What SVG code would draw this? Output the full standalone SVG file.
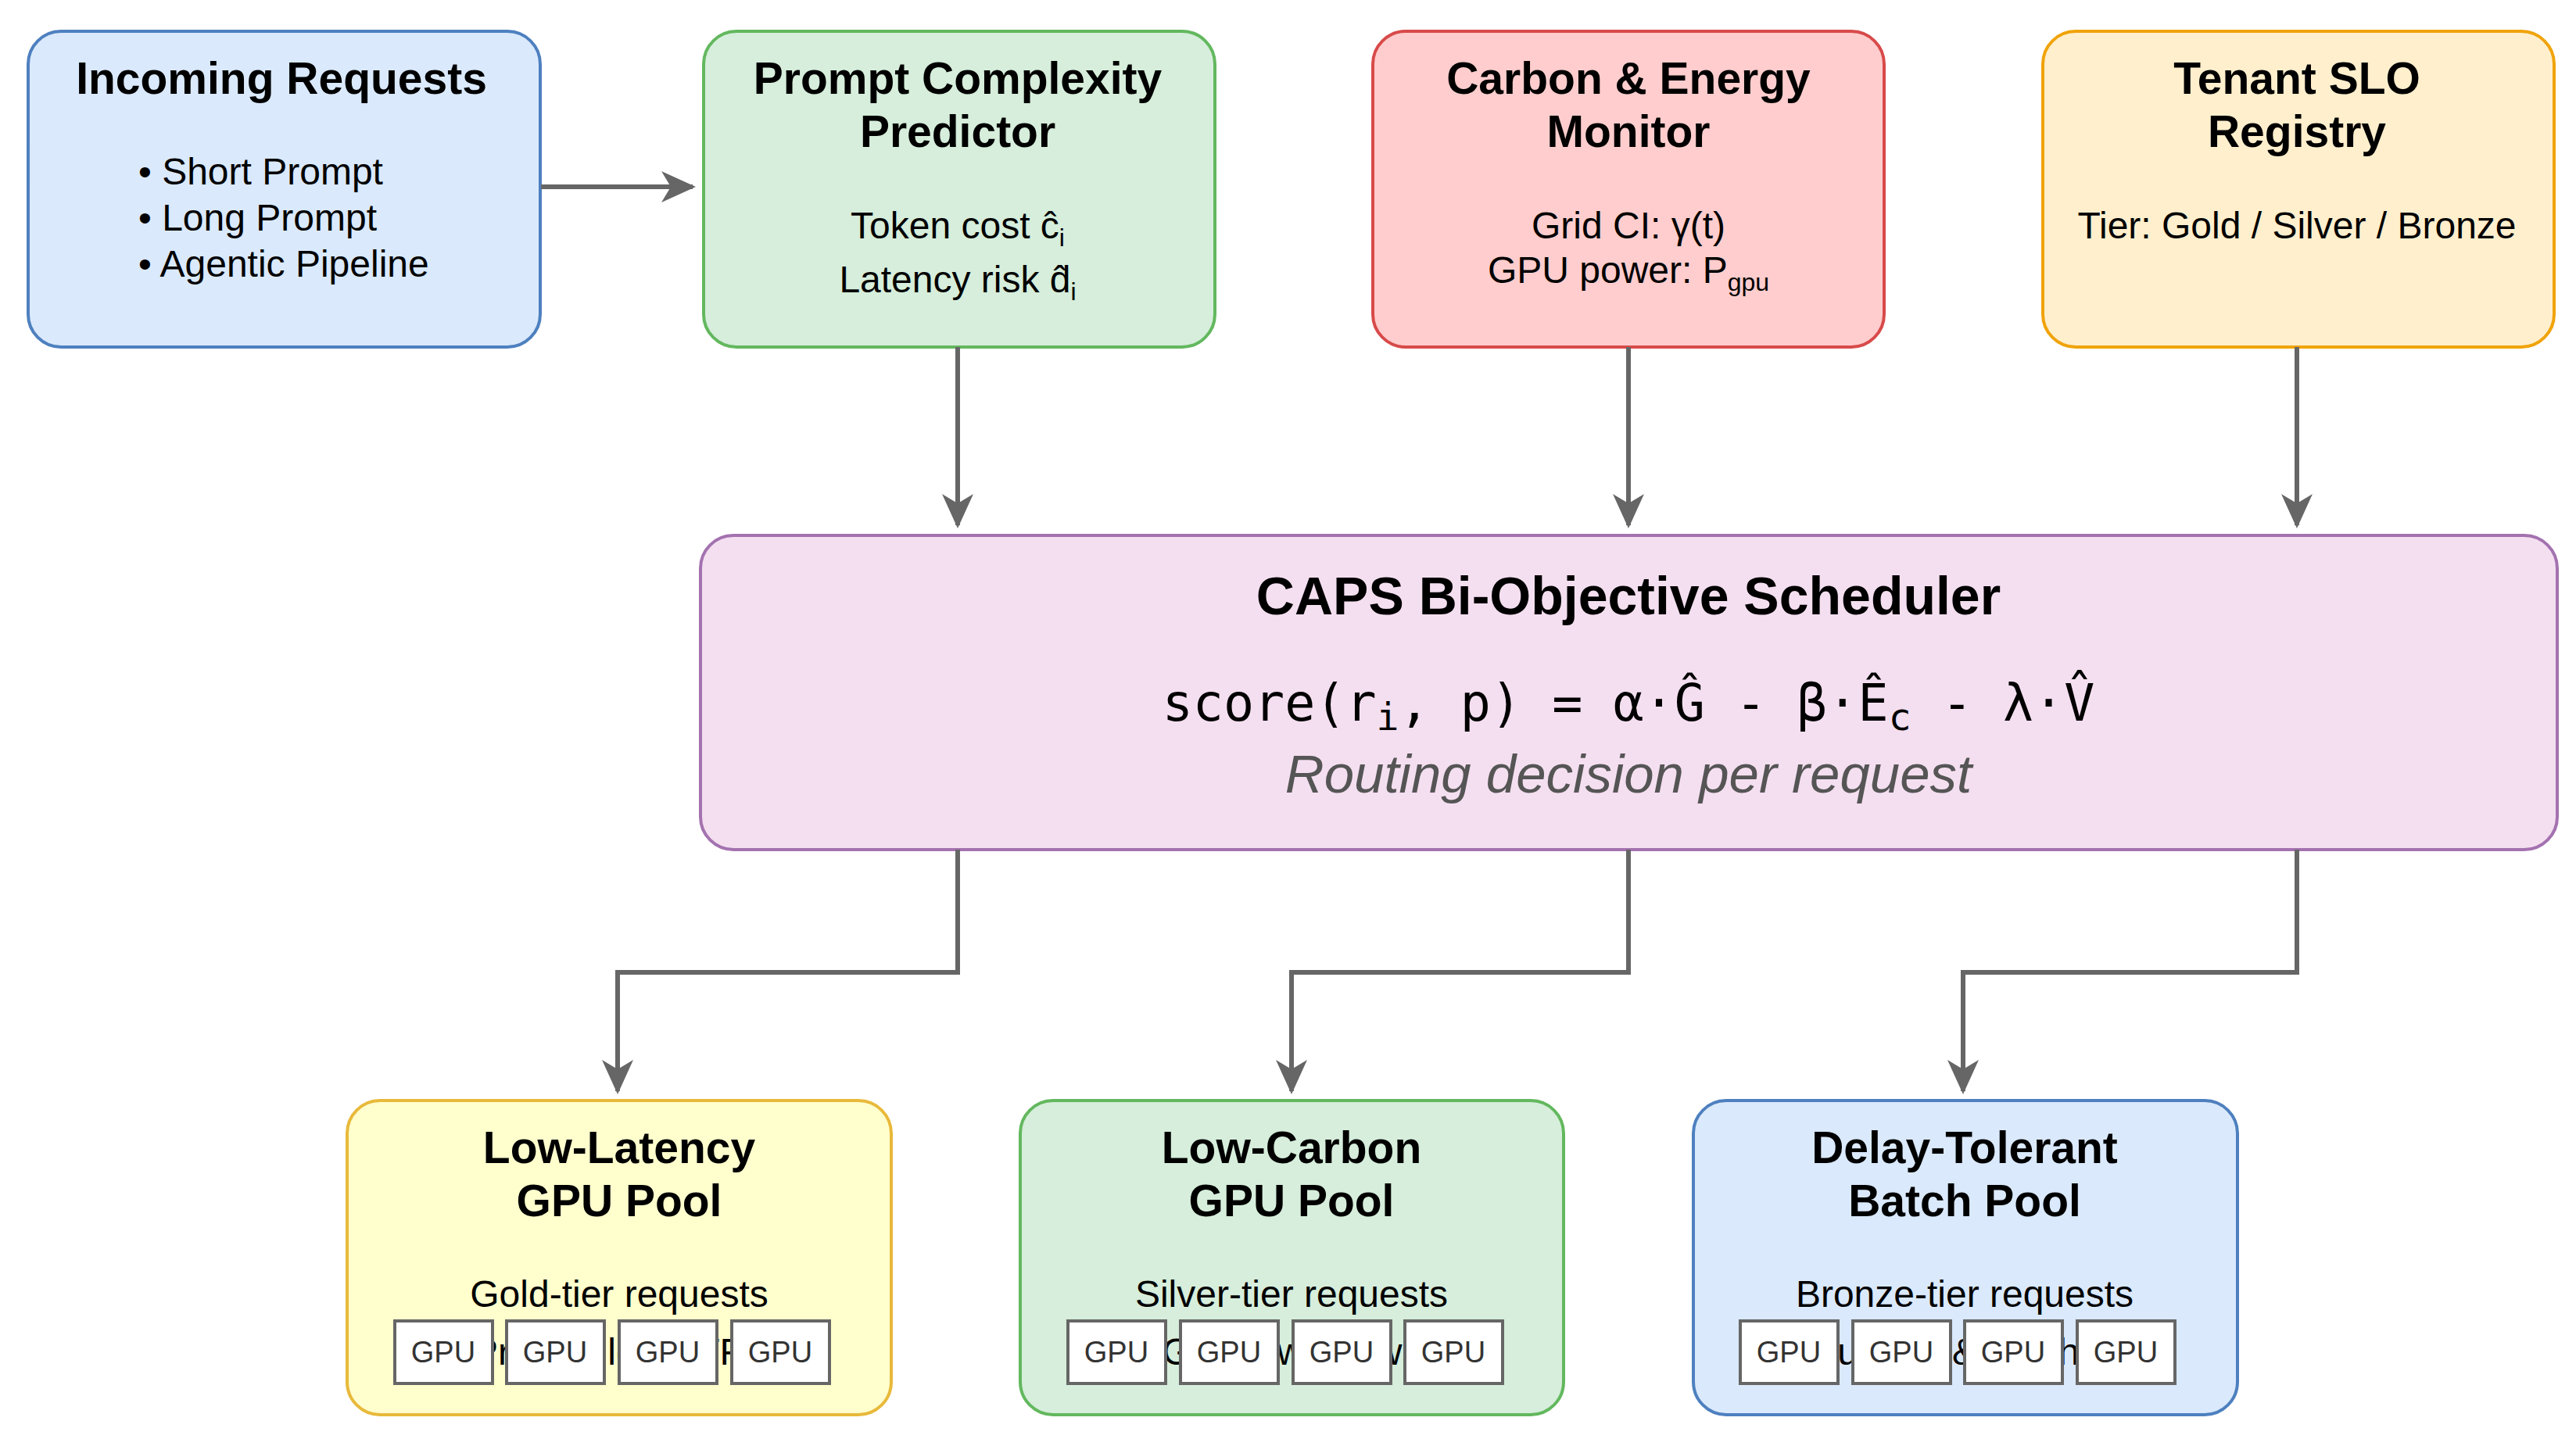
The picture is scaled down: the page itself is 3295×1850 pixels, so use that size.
<svg xmlns="http://www.w3.org/2000/svg" width="3295" height="1850" viewBox="0 0 3295 1850">
<defs>
<marker id="ah" markerWidth="44" markerHeight="44" refX="40" refY="22" orient="auto" markerUnits="userSpaceOnUse" viewBox="0 0 44 44"><path d="M0,2 L44,22 L0,42 L12,22 z" fill="#666"/></marker>
<style>
text{font-family:"Liberation Sans",Arial,sans-serif;fill:#000;text-anchor:middle}
.t{font-size:57px;font-weight:bold}
.b{font-size:48px}
.g{font-size:38px;fill:#333}
.box{stroke-width:4}
.gpu{fill:#fff;stroke:#666;stroke-width:4}
.c{fill:none;stroke:#666;stroke-width:6}
</style>
</defs>
<rect width="3295" height="1850" fill="#fff"/>
<g id="incoming"><rect class="box" x="36" y="40" width="655" height="404" rx="42" fill="#dae9fc" stroke="#4e80bf"/>
<text class="t" x="360" y="120">Incoming Requests</text>
<text class="b" x="177" y="236" style="text-anchor:start">• Short Prompt</text>
<text class="b" x="177" y="295" style="text-anchor:start">• Long Prompt</text>
<text class="b" x="177" y="354" style="text-anchor:start">• Agentic Pipeline</text></g>
<g id="predictor"><rect class="box" x="900" y="40" width="654" height="404" rx="42" fill="#d6eedb" stroke="#63b85e"/>
<text class="t" x="1225" y="120">Prompt Complexity</text><text class="t" x="1225" y="188">Predictor</text>
<text class="b" x="1225" y="305">Token cost ĉ<tspan font-size="32" dy="10">i</tspan></text>
<text class="b" x="1225" y="374">Latency risk d̂<tspan font-size="32" dy="10">i</tspan></text></g>
<g id="carbon"><rect class="box" x="1756" y="40" width="654" height="404" rx="42" fill="#ffcdcd" stroke="#d84a4a"/>
<text class="t" x="2083" y="120">Carbon &amp; Energy</text><text class="t" x="2083" y="188">Monitor</text>
<text class="b" x="2083" y="305">Grid CI: γ(t)</text>
<text class="b" x="2083" y="362">GPU power: P<tspan font-size="32" dy="10">gpu</tspan></text></g>
<g id="tenant"><rect class="box" x="2613" y="40" width="654" height="404" rx="42" fill="#ffefcd" stroke="#f0a30a"/>
<text class="t" x="2938" y="120">Tenant SLO</text><text class="t" x="2938" y="188">Registry</text>
<text class="b" x="2938" y="305">Tier: Gold / Silver / Bronze</text></g>
<g id="scheduler"><rect class="box" x="896" y="685" width="2375" height="402" rx="42" fill="#f4dff0" stroke="#a472b0"/>
<text class="t" x="2083" y="786" style="font-size:68px">CAPS Bi-Objective Scheduler</text>
<text x="2083" y="922" style="font-family:'DejaVu Sans Mono','Liberation Mono',monospace;font-size:65px">score(r<tspan font-size="48" dy="12">i</tspan><tspan dy="-12">, p) = α·Ĝ - β·Ê</tspan><tspan font-size="48" dy="12">c</tspan><tspan dy="-12"> - λ·V̂</tspan></text>
<text x="2083" y="1014" style="font-size:69px;font-style:italic;fill:#555">Routing decision per request</text></g>
<g id="pool-latency"><rect class="box" x="444" y="1408" width="696" height="402" rx="42" fill="#ffffcd" stroke="#e8b93a"/>
<text class="t" x="792" y="1488">Low-Latency</text><text class="t" x="792" y="1556">GPU Pool</text>
<text class="b" x="792" y="1672">Gold-tier requests</text>
<text class="b" x="792" y="1746">Priority, low TTFT</text>
<rect class="gpu" x="505" y="1690" width="125" height="80"/><text class="g" x="567" y="1743">GPU</text>
<rect class="gpu" x="648" y="1690" width="125" height="80"/><text class="g" x="710" y="1743">GPU</text>
<rect class="gpu" x="792" y="1690" width="125" height="80"/><text class="g" x="854" y="1743">GPU</text>
<rect class="gpu" x="936" y="1690" width="125" height="80"/><text class="g" x="998" y="1743">GPU</text></g>
<g id="pool-carbon"><rect class="box" x="1305" y="1408" width="695" height="402" rx="42" fill="#d6eedb" stroke="#63b85e"/>
<text class="t" x="1652" y="1488">Low-Carbon</text><text class="t" x="1652" y="1556">GPU Pool</text>
<text class="b" x="1652" y="1672">Silver-tier requests</text>
<text class="b" x="1652" y="1746">Green windows</text>
<rect class="gpu" x="1366" y="1690" width="125" height="80"/><text class="g" x="1428" y="1743">GPU</text>
<rect class="gpu" x="1510" y="1690" width="125" height="80"/><text class="g" x="1572" y="1743">GPU</text>
<rect class="gpu" x="1654" y="1690" width="125" height="80"/><text class="g" x="1716" y="1743">GPU</text>
<rect class="gpu" x="1797" y="1690" width="125" height="80"/><text class="g" x="1859" y="1743">GPU</text></g>
<g id="pool-batch"><rect class="box" x="2166" y="1408" width="696" height="402" rx="42" fill="#dae9fc" stroke="#4e80bf"/>
<text class="t" x="2513" y="1488">Delay-Tolerant</text><text class="t" x="2513" y="1556">Batch Pool</text>
<text class="b" x="2513" y="1672">Bronze-tier requests</text>
<text class="b" x="2513" y="1746">Queued &amp; batched</text>
<rect class="gpu" x="2226" y="1690" width="125" height="80"/><text class="g" x="2288" y="1743">GPU</text>
<rect class="gpu" x="2370" y="1690" width="125" height="80"/><text class="g" x="2432" y="1743">GPU</text>
<rect class="gpu" x="2513" y="1690" width="125" height="80"/><text class="g" x="2575" y="1743">GPU</text>
<rect class="gpu" x="2657" y="1690" width="125" height="80"/><text class="g" x="2719" y="1743">GPU</text></g>
<g id="connectors">
<path class="c" d="M692,239 H886" marker-end="url(#ah)"/>
<path class="c" d="M1225,444 V672" marker-end="url(#ah)"/>
<path class="c" d="M2083,444 V672" marker-end="url(#ah)"/>
<path class="c" d="M2938,444 V672" marker-end="url(#ah)"/>
<path class="c" d="M1225,1087 V1244 H790 V1396" marker-end="url(#ah)"/>
<path class="c" d="M2083,1087 V1244 H1652 V1396" marker-end="url(#ah)"/>
<path class="c" d="M2938,1087 V1244 H2511 V1396" marker-end="url(#ah)"/>
</g>
</svg>
